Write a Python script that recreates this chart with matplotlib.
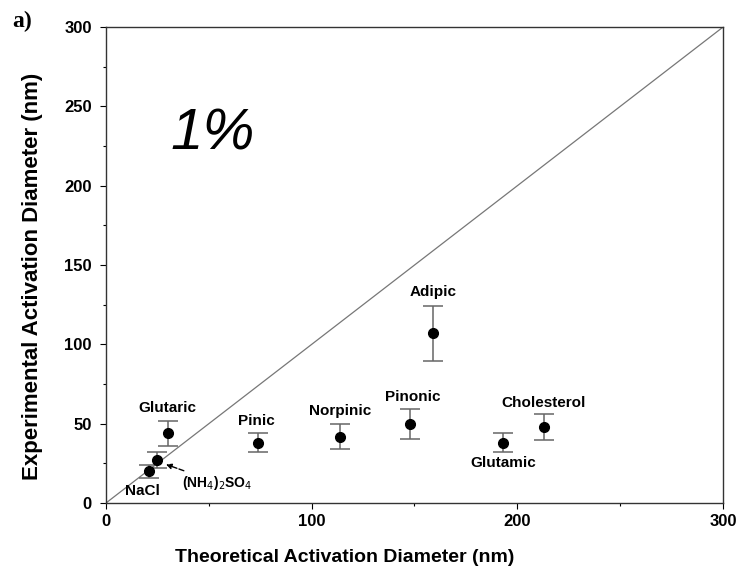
import matplotlib
matplotlib.use("Agg")
import matplotlib.pyplot as plt
from matplotlib.ticker import MultipleLocator

plt.rcParams['font.family'] = ['Liberation Sans', 'DejaVu Sans']

names = ["Glutaric", "Pinic", "Norpinic", "Pinonic", "Adipic", "Cholesterol", "Glutamic", "(NH$_4$)$_2$SO$_4$", "NaCl"]
theo = [30, 74, 114, 148, 159, 213, 193, 25, 21]
expt = [44, 38, 42, 50, 107, 48, 38, 27, 20]
err = [8, 6, 8, 9.5, 17.5, 8, 6, 5, 4]
# label offsets (data units) relative to point
lab_dx = [0, -1, 0, 1, 0, 0, 0, 0, -3]
lab_dy = [16, 14, 16, 17, 26, 15, -13, 0, -12.5]

fig = plt.figure(figsize=(7.4, 5.77), dpi=100)
ax = fig.add_axes([0.143, 0.128, 0.834, 0.825])

ax.plot([0, 300], [0, 300], color='#777777', lw=0.9, zorder=1)
ax.errorbar(theo, expt, yerr=err, fmt='o', color='black', ms=7,
            ecolor='#666666', elinewidth=1.1, capsize=7, capthick=1.1, zorder=3)

for i, n in enumerate(names):
    if i == 7:
        continue
    ax.text(theo[i] + lab_dx[i], expt[i] + lab_dy[i], n, ha='center', va='center',
            fontsize=11, fontweight='bold')

# (NH4)2SO4 label with dashed arrow
ax.annotate(names[7], xy=(theo[7] + 3, expt[7] - 2), xytext=(54, 13),
            ha='center', va='center', fontsize=10, fontweight='bold',
            arrowprops=dict(arrowstyle='-|>', linestyle='--', color='black', lw=1,
                            shrinkA=16, shrinkB=2, mutation_scale=8))

ax.set_xlim(0, 300)
ax.set_ylim(0, 300)
ax.xaxis.set_major_locator(MultipleLocator(100))
ax.xaxis.set_minor_locator(MultipleLocator(50))
ax.yaxis.set_major_locator(MultipleLocator(50))
ax.yaxis.set_minor_locator(MultipleLocator(25))
ax.tick_params(which='both', direction='out', labelsize=12, width=0.8)
ax.tick_params(axis='y', pad=6)
ax.tick_params(which='major', length=4)
ax.tick_params(which='minor', length=2.5)
for lab in ax.get_xticklabels() + ax.get_yticklabels():
    lab.set_fontweight('bold')
for s in ax.spines.values():
    s.set_linewidth(1.0)
    s.set_color('#333333')

ax.set_xlabel("Theoretical Activation Diameter (nm)", fontsize=14, fontweight='bold')
ax.set_ylabel("Experimental Activation Diameter (nm)", fontsize=16, fontweight='bold')
ax.xaxis.set_label_coords(0.387, -0.097)
ax.yaxis.set_label_coords(-0.102, 0.477)

ax.text(0.173, 0.775, "1%", transform=ax.transAxes, fontsize=42, fontstyle='italic',
        ha='center', va='center', family=['Liberation Sans', 'DejaVu Sans'])
fig.text(0.016, 0.962, "a)", fontsize=17, fontweight='bold', ha='left', va='center',
         family=['Liberation Serif', 'DejaVu Serif'])

fig.savefig("out.png", dpi=100)
